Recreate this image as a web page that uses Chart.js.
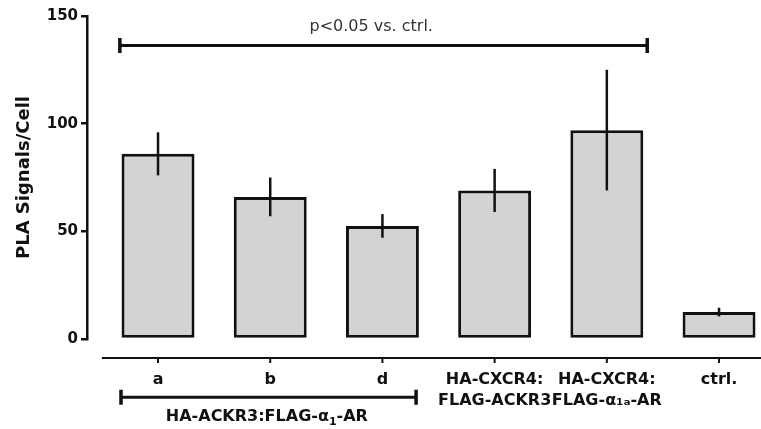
<!DOCTYPE html>
<html>
<head>
<meta charset="utf-8">
<script src="https://cdn.jsdelivr.net/npm/chart.js@4/dist/chart.umd.min.js"></script>
<style>
  html, body { margin: 0; padding: 0; background: #fff; }
  #wrap { width: 761px; height: 429px; }
</style>
</head>
<body>
<div id="wrap"><canvas id="chart"></canvas></div>
<script>
const categories = ['a', 'b', 'd', ['HA-CXCR4:', 'FLAG-ACKR3'], ['HA-CXCR4:', 'FLAG-α₁ₐ-AR'], 'ctrl.'];
const means = [86, 66, 52.5, 69, 97, 12.5];
const sems = [10, 9, 5.5, 10, 28, 2];
const yTicks = [0, 50, 100, 150];

const ink = '#111';
const boldFont = 'DejaVu Sans';

// draws text made of parts, some of them subscript, centred on cx
function drawRich(ctx, parts, cx, baseline, size, weight, color) {
  const fontFor = p => `${weight} ${p.sub ? Math.round(size * 0.7) : size}px ${boldFont}`;
  let total = 0;
  parts.forEach(p => { ctx.font = fontFor(p); total += ctx.measureText(p.t).width; });
  let x = cx - total / 2;
  ctx.fillStyle = color;
  ctx.textAlign = 'left';
  ctx.textBaseline = 'alphabetic';
  parts.forEach(p => {
    ctx.font = fontFor(p);
    ctx.fillText(p.t, x, baseline + (p.sub ? size * 0.25 : 0));
    x += ctx.measureText(p.t).width;
  });
}

const annotate = {
  id: 'annotate',
  afterDatasetsDraw(chart, args, opts) {
    const { ctx, chartArea } = chart;
    const x = chart.scales.x, y = chart.scales.y;
    ctx.save();
    ctx.strokeStyle = ink;

    // error bars (SEM)
    ctx.lineWidth = 2.5;
    chart.getDatasetMeta(0).data.forEach((bar, i) => {
      ctx.beginPath();
      ctx.moveTo(bar.x, y.getPixelForValue(means[i] + sems[i]));
      ctx.lineTo(bar.x, y.getPixelForValue(means[i] - sems[i]));
      ctx.stroke();
    });

    // detached x axis line with tick marks
    const ay = chartArea.bottom + opts.axisOffset;
    ctx.lineWidth = 2;
    ctx.beginPath();
    ctx.moveTo(x.getPixelForValue(-0.5), ay);
    ctx.lineTo(chart.width, ay);
    categories.forEach((c, i) => {
      const px = x.getPixelForValue(i);
      ctx.moveTo(px, ay);
      ctx.lineTo(px, ay + 5);
    });
    ctx.stroke();

    // significance brackets
    opts.brackets.forEach(b => {
      const x1 = x.getPixelForValue(b.from), x2 = x.getPixelForValue(b.to);
      const by = y.getPixelForValue(b.y);
      ctx.lineWidth = 3;
      ctx.beginPath();
      ctx.moveTo(x1, by);
      ctx.lineTo(x2, by);
      ctx.stroke();
      ctx.lineWidth = 3.5;
      ctx.beginPath();
      ctx.moveTo(x1, by - 7.5); ctx.lineTo(x1, by + 7.5);
      ctx.moveTo(x2, by - 7.5); ctx.lineTo(x2, by + 7.5);
      ctx.stroke();
      drawRich(ctx, b.label, x.getPixelForValue(b.labelX), y.getPixelForValue(b.labelY),
        b.size, b.weight, b.color);
    });
    ctx.restore();
  }
};

new Chart(document.getElementById('chart'), {
  type: 'bar',
  data: {
    datasets: [{
      data: means.map((v, i) => ({ x: i, y: v })),
      backgroundColor: '#d3d3d3',
      borderColor: ink,
      borderWidth: 3,
      borderSkipped: false,
      barPercentage: 0.65,
      categoryPercentage: 1
    }]
  },
  options: {
    responsive: true,
    maintainAspectRatio: false,
    animation: false,
    layout: { padding: { top: 16, right: 0, left: 0, bottom: 0 } },
    plugins: {
      legend: { display: false },
      tooltip: { enabled: false },
      annotate: {
        axisOffset: 19,
        brackets: [
          { from: -0.34, to: 4.36, y: 136.3, labelX: 1.9, labelY: 143,
            label: [{ t: 'p<0.05 vs. ctrl.' }], size: 16, weight: 'normal', color: '#333' },
          { from: -0.33, to: 2.3, y: -27, labelX: 0.97, labelY: -38.3,
            label: [{ t: 'HA-ACKR3:FLAG-α' }, { t: '1', sub: true }, { t: '-AR' }],
            size: 16, weight: 'bold', color: ink }
        ]
      }
    },
    scales: {
      x: {
        type: 'linear',
        offset: false,
        min: -0.633,
        max: 5.374,
        // axis runs off the right edge, so no room is kept for labels there
        afterFit: s => { s.height = 90; s.paddingLeft = 0; s.paddingRight = 0; },
        afterBuildTicks: s => { s.ticks = categories.map((c, i) => ({ value: i })); },
        border: { display: false },
        grid: { display: false },
        ticks: {
          autoSkip: false,
          maxRotation: 0,
          padding: 23,
          color: ink,
          font: { family: boldFont, size: 16, weight: 'bold', lineHeight: 1.28 },
          callback: v => categories[v]
        }
      },
      y: {
        min: 0,
        max: 150,
        afterFit: s => { s.width = 87; },
        afterBuildTicks: s => { s.ticks = yTicks.map(v => ({ value: v })); },
        border: { display: true, color: ink, width: 2.5 },
        grid: { drawOnChartArea: false, drawTicks: true, tickLength: 6, color: ink, lineWidth: 2.5 },
        ticks: {
          padding: 3,
          color: ink,
          font: { family: boldFont, size: 15, weight: 'bold' }
        },
        title: {
          display: true,
          text: 'PLA Signals/Cell',
          color: ink,
          padding: { top: 14, bottom: 0 },
          font: { family: boldFont, size: 18, weight: 'bold' }
        }
      }
    }
  },
  plugins: [annotate]
});
</script>
</body>
</html>
